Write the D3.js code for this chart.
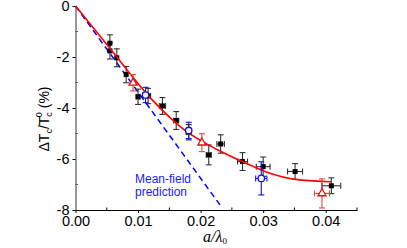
<!DOCTYPE html>
<html>
<head>
<meta charset="utf-8">
<script src="https://cdn.jsdelivr.net/npm/d3@7"></script>
<style>
  body { margin: 0; background: #fff; }
  svg { display: block; font-family: "Liberation Sans", Arial, sans-serif; }
</style>
</head>
<body>
<svg id="chart" width="407" height="248"></svg>
<script>
// black squares (main data set)
var blackX = [0.0055, 0.0055, 0.0066, 0.0081, 0.0100, 0.0116, 0.0139, 0.0161, 0.0181, 0.0213, 0.0232, 0.0267, 0.0300, 0.0351, 0.0409];
var blackY = [-1.46, -1.76, -2.03, -2.69, -3.56, -3.53, -3.92, -4.49, -4.95, -5.84, -5.41, -6.10, -6.30, -6.49, -7.05];
var blackYErr = [0.33, 0.32, 0.35, 0.32, 0.30, 0.30, 0.33, 0.35, 0.30, 0.39, 0.36, 0.35, 0.38, 0.31, 0.31];
var blackXErr = [0, 0, 0, 0, 0.0003, 0.0004, 0.0005, 0.0004, 0.0004, 0.0004, 0.0006, 0.0008, 0.0011, 0.0012, 0.0015];

// red open triangles
var redX = [0.0092, 0.0202, 0.0394];
var redY = [-3.01, -5.36, -7.35];
var redYErr = [0.32, 0.35, 0.57];
var redXErr = [0, 0, 0.0012];

// blue open circles
var blueX = [0.0112, 0.0181, 0.0297];
var blueY = [-3.49, -4.88, -6.76];
var blueYErr = [0.30, 0.32, 0.65];
var blueXErr = [0.0004, 0.0003, 0.0009];

// red fit curve
var fitX = [0, 0.0053, 0.0123, 0.0174, 0.0228, 0.0282, 0.0304, 0.0358, 0.0409];
var fitY = [0, -1.60, -3.69, -4.86, -5.65, -6.27, -6.50, -6.82, -6.89];

// mean-field prediction (straight dashed line)
var mfX = [0, 0.0231];
var mfY = [0, -7.8];

var xTicks = [0, 0.01, 0.02, 0.03, 0.04];
var xMinor = [0.005, 0.015, 0.025, 0.035, 0.045];
var yTicks = [0, -2, -4, -6, -8];
var yMinor = [-1, -3, -5, -7];

var svg = d3.select("#chart");
var x = d3.scaleLinear().domain([0, 0.045]).range([75.5, 357]);
var y = d3.scaleLinear().domain([0, -8]).range([6, 210]);

function zip(xs, ys) {
    return xs.map(function(v, i) { return [v, ys[i]]; });
}

// axes
var xAxis = d3.axisBottom(x).tickValues(xTicks).tickFormat(d3.format(".2f")).tickSizeInner(3).tickSizeOuter(0).tickPadding(3);
var gx = svg.append("g").attr("transform", "translate(0," + y(-8) + ")").call(xAxis);
gx.select(".domain").attr("stroke", "#000").attr("stroke-width", 1.2);
gx.selectAll("text").attr("font-size", 14.5).attr("fill", "#000");
gx.selectAll(".minor").data(xMinor).enter().append("line")
    .attr("class", "minor")
    .attr("x1", function(d) { return x(d); }).attr("x2", function(d) { return x(d); })
    .attr("y1", 0).attr("y2", -2.5).attr("stroke", "#000");

var yAxis = d3.axisLeft(y).tickValues(yTicks).tickFormat(d3.format("d")).tickSizeInner(3).tickSizeOuter(0).tickPadding(3);
var gy = svg.append("g").attr("transform", "translate(" + x(0) + ",0)").call(yAxis);
gy.select(".domain").attr("stroke", "#555").attr("stroke-width", 1.2);
gy.selectAll("text").attr("font-size", 14.5).attr("fill", "#000")
    .text(function(d) { return d === 0 ? "0" : "-" + Math.abs(d); });
gy.selectAll(".minor").data(yMinor).enter().append("line")
    .attr("class", "minor")
    .attr("x1", 0).attr("x2", 2.5)
    .attr("y1", function(d) { return y(d); }).attr("y2", function(d) { return y(d); })
    .attr("stroke", "#555");

// axis titles
var yl = svg.append("text")
    .attr("transform", "translate(49,119) rotate(-90)")
    .attr("text-anchor", "middle")
    .attr("font-size", 14)
    .attr("fill", "#000");
yl.append("tspan").text("\u0394T");
yl.append("tspan").attr("font-size", 9).attr("dy", 3).text("c");
yl.append("tspan").attr("dy", -3).text("/T");
yl.append("tspan").attr("font-size", 9).attr("dy", 3).text("c");
yl.append("tspan").attr("font-size", 9).attr("dx", -5).attr("dy", -10).text("0");
yl.append("tspan").attr("dy", 7).text(" (%)");

var xl = svg.append("text")
    .attr("x", 215).attr("y", 242)
    .attr("text-anchor", "middle")
    .attr("font-family", "'Liberation Serif', 'Times New Roman', serif")
    .attr("font-style", "italic")
    .attr("font-size", 16)
    .attr("fill", "#000");
xl.append("tspan").text("a/\u03bb");
xl.append("tspan").attr("font-size", 9).attr("font-style", "normal").attr("dy", 2).text("0");

// mean-field line
var line = d3.line().x(function(d) { return x(d[0]); }).y(function(d) { return y(d[1]); });
svg.append("path")
    .datum(zip(mfX, mfY))
    .attr("d", line)
    .attr("fill", "none")
    .attr("stroke", "#0000ff")
    .attr("stroke-width", 1.5)
    .attr("stroke-dasharray", "6,4");

svg.append("text").attr("x", 135).attr("y", 183).attr("font-size", 12).attr("fill", "#1a1aff").text("Mean-field");
svg.append("text").attr("x", 135).attr("y", 196).attr("font-size", 12).attr("fill", "#1a1aff").text("prediction");

// error bars
function errorBars(xs, ys, xe, ye, color) {
    var g = svg.append("g").attr("stroke", color).attr("stroke-width", 1.1).attr("fill", "none");
    xs.forEach(function(v, i) {
        var cx = x(v), cy = y(ys[i]);
        var top = y(ys[i] + ye[i]), bot = y(ys[i] - ye[i]);
        g.append("line").attr("x1", cx).attr("x2", cx).attr("y1", top).attr("y2", bot);
        g.append("line").attr("x1", cx - 3).attr("x2", cx + 3).attr("y1", top).attr("y2", top);
        g.append("line").attr("x1", cx - 3).attr("x2", cx + 3).attr("y1", bot).attr("y2", bot);
        if (xe[i] > 0) {
            var l = x(v - xe[i]), r = x(v + xe[i]);
            g.append("line").attr("x1", l).attr("x2", r).attr("y1", cy).attr("y2", cy);
            g.append("line").attr("x1", l).attr("x2", l).attr("y1", cy - 3).attr("y2", cy + 3);
            g.append("line").attr("x1", r).attr("x2", r).attr("y1", cy - 3).attr("y2", cy + 3);
        }
    });
}

errorBars(blackX, blackY, blackXErr, blackYErr, "#333");

svg.selectAll(".sq").data(zip(blackX, blackY)).enter().append("rect")
    .attr("class", "sq")
    .attr("x", function(d) { return x(d[0]) - 2.5; })
    .attr("y", function(d) { return y(d[1]) - 2.5; })
    .attr("width", 5).attr("height", 5)
    .attr("fill", "#000");

// fit curve
svg.append("path")
    .datum(zip(fitX, fitY))
    .attr("d", line.curve(d3.curveMonotoneX))
    .attr("fill", "none")
    .attr("stroke", "#ff0000")
    .attr("stroke-width", 1.6);

errorBars(redX, redY, redXErr, redYErr, "#e84040");
var tri = d3.symbol().type(d3.symbolTriangle).size(28);
svg.selectAll(".tri").data(zip(redX, redY)).enter().append("path")
    .attr("class", "tri")
    .attr("d", tri)
    .attr("transform", function(d) { return "translate(" + x(d[0]) + "," + y(d[1]) + ")"; })
    .attr("fill", "#fff")
    .attr("stroke", "#e01010")
    .attr("stroke-width", 1.3);

errorBars(blueX, blueY, blueXErr, blueYErr, "#1010e0");
svg.selectAll(".circ").data(zip(blueX, blueY)).enter().append("circle")
    .attr("class", "circ")
    .attr("cx", function(d) { return x(d[0]); })
    .attr("cy", function(d) { return y(d[1]); })
    .attr("r", 3.2)
    .attr("fill", "#fff")
    .attr("stroke", "#1010e0")
    .attr("stroke-width", 1.3);
</script>
</body>
</html>
